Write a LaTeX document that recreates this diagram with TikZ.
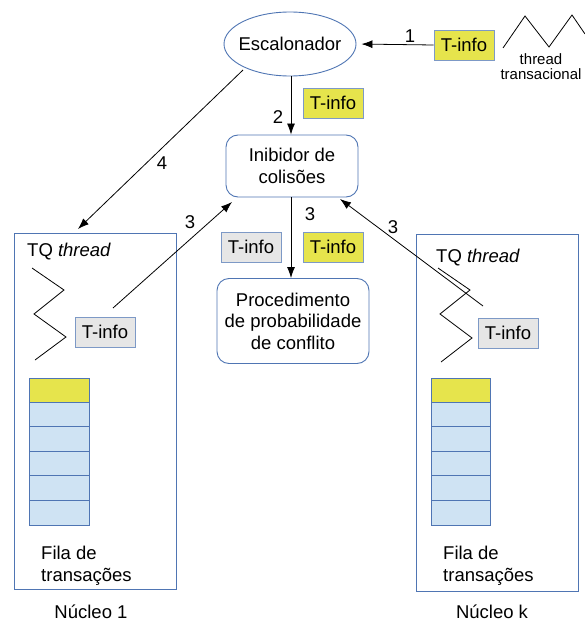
\documentclass[tikz,border=0pt]{standalone}
\usepackage{fontspec}
\setmainfont{Liberation Sans}
\usetikzlibrary{arrows.meta,shapes.geometric}
\definecolor{edgeblue}{HTML}{4F75B3}
\definecolor{boxedge}{HTML}{7D99C6}
\definecolor{tyellow}{HTML}{E6E44C}
\definecolor{tgray}{HTML}{E6E6E6}
\definecolor{cellblue}{HTML}{CFE3F3}
\tikzset{
  txt/.style={font=\fontsize{18.5}{21.5}\selectfont, inner sep=0pt},
  small/.style={font=\fontsize{15}{17}\selectfont, inner sep=0pt, align=center},
  tinfo/.style={draw=boxedge, line width=0.9pt, minimum width=60, minimum height=30,
    inner sep=0pt, font=\fontsize{18.5}{21.5}\selectfont},
  yinfo/.style={tinfo, fill=tyellow},
  ginfo/.style={tinfo, fill=tgray},
  procbox/.style={draw=edgeblue, line width=0.9pt, rounded corners=12, align=center,
    font=\fontsize{18.5}{21.5}\selectfont},
  corebox/.style={draw=edgeblue, line width=0.9pt},
  cell/.style={draw=edgeblue, line width=0.9pt, fill=cellblue},
  topcell/.style={draw=edgeblue, line width=0.9pt, fill=tyellow},
  flow/.style={line width=0.8pt, -{Latex[length=11,width=8]}},
  zig/.style={line width=0.8pt},
}
\begin{document}
\begin{tikzpicture}[x=1pt,y=-1pt]
\useasboundingbox (0,0) rectangle (585,623);

% scheduler: outline and its label are separate so the ellipse keeps its size
\node[draw=edgeblue, line width=0.9pt, ellipse, inner sep=0pt,
  minimum width=132, minimum height=64] (esc) at (290,44) {};
\node[txt] (esctxt) at (esc.center) {Escalonador};

% incoming transactional thread
\node[yinfo] (tin) at (464,45) {T-info};
\draw[zig] (503,48) -- (525,16) -- (549,47) -- (572,15) -- (585,34);
\node[small] (thr) at (541,67) {thread\\[-2pt]transacional};
\draw[flow, shorten >=5] (tin.west) -- (esc.east);
\node[txt] (l1) at (410,36) {1};

% collision inhibitor
\node[procbox, minimum width=132, minimum height=62] (inib) at (292,166) {Inibidor de\\colisões};
\draw[flow] (291,76) -- (inib.north -| 291,0);
\node[txt] (l2) at (278,117) {2};
\node[yinfo] (ti2) at (333,103) {T-info};

% conflict probability procedure
\node[procbox, minimum width=152, minimum height=85] (proc) at (293,321)
  {Procedimento\\de probabilidade\\de conflito};
\draw[flow] (inib.south -| 291,0) -- (proc.north -| 291,0);
\node[txt] (l3c) at (310,214) {3};
\node[ginfo] (ti3g) at (251,247) {T-info};
\node[yinfo] (ti3y) at (333,247) {T-info};

% core 1
\node[corebox, minimum width=162, minimum height=356, inner sep=0pt] (core1) at (95,411) {};
\node[txt, anchor=west] (tq1) at (27,252) {TQ \textit{thread}};
\draw[zig] (32,268) -- (64,290) -- (34,314) -- (66,337) -- (35,360);
\node[ginfo] (ti1) at (105,332) {T-info};
\node[txt, anchor=west, align=left] (fila1) at (41,566) {Fila de\\transações};
\node[txt] (n1) at (91,612) {Núcleo 1};
\foreach \i in {1,...,5}{
  \draw[cell] (29,{402+(\i-1)*24.6}) rectangle (89,{402+\i*24.6});
}
\draw[topcell] (29,378) rectangle (89,402);

% core k
\node[corebox, minimum width=162, minimum height=357, inner sep=0pt] (corek) at (497,412.5) {};
\node[txt, anchor=west] (tqk) at (436,258) {TQ \textit{thread}};
\draw[zig] (438,268) -- (470,290) -- (440,314) -- (472,338) -- (441,362);
\node[ginfo] (tik) at (508,333) {T-info};
\node[txt, anchor=west, align=left] (filak) at (443,566) {Fila de\\transações};
\node[txt] (nk) at (492,612) {Núcleo k};
\foreach \i in {1,...,5}{
  \draw[cell] (431,{402+(\i-1)*24.6}) rectangle (490,{402+\i*24.6});
}
\draw[topcell] (431,378) rectangle (490,402);

% dispatch and report arrows
\coordinate (s4) at (243,70);
\coordinate (e4) at (78,229);
\draw[flow] (s4) -- (e4);
\node[txt] (l4) at (162,163) {4};

\coordinate (s3a) at (113,308);
\coordinate (e3a) at (232,202);
\draw[flow] (s3a) -- (e3a);
\node[txt] (l3a) at (190,222) {3};

\coordinate (s3b) at (483,306);
\coordinate (e3b) at (340,199);
\draw[flow] (s3b) -- (e3b);
\node[txt] (l3b) at (393,227) {3};
\end{tikzpicture}
\end{document}
